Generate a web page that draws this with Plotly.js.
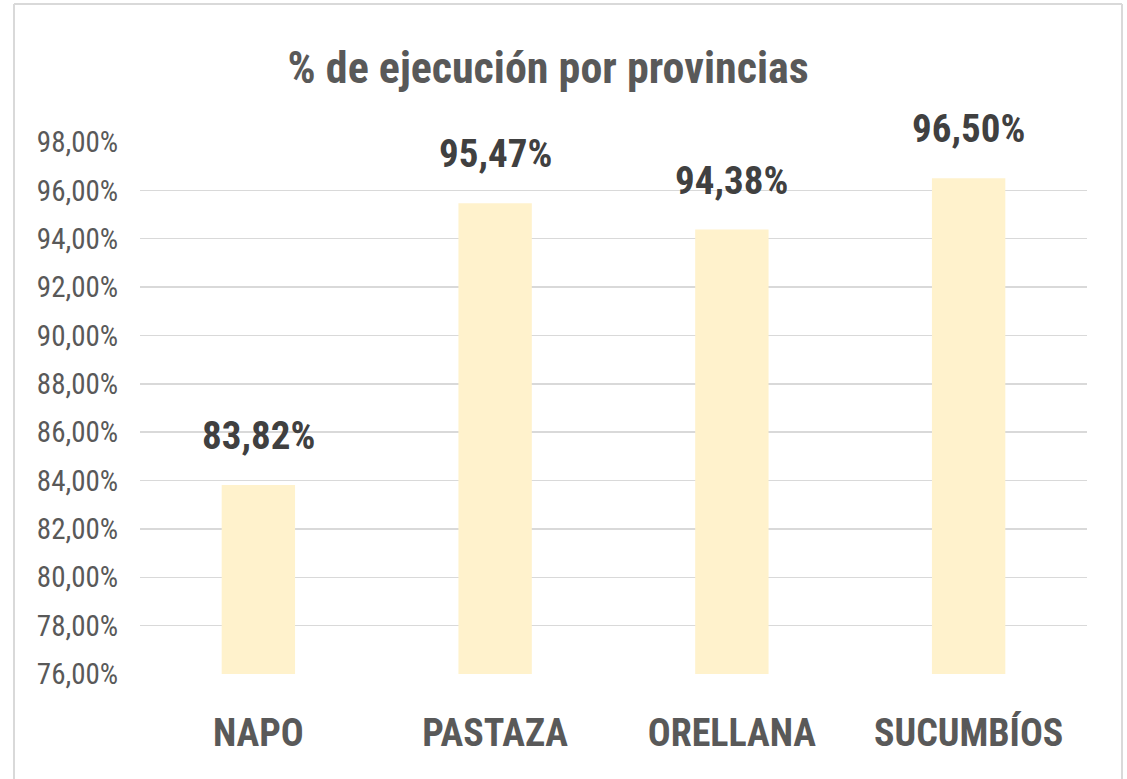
<!DOCTYPE html>
<html>
<head>
<meta charset="utf-8">
<script src="https://cdn.plot.ly/plotly-3.0.1.min.js"></script>
<style>html,body{margin:0;padding:0;background:#fff;}#chart{width:1127px;height:779px;}</style>
</head>
<body>
<div id="chart"></div>
<script>
const categories = ['NAPO', 'PASTAZA', 'ORELLANA', 'SUCUMBÍOS'];
const values = [0.8382, 0.9547, 0.9438, 0.9650];
const tickValues = [0.76, 0.78, 0.80, 0.82, 0.84, 0.86, 0.88, 0.90, 0.92, 0.94, 0.96, 0.98];

const FONT = '"Liberation Sans Narrow", "Roboto Condensed", Roboto, sans-serif';

const annotations = categories.map((c, i) => ({
  x: c, y: values[i], xref: 'x', yref: 'y',
  text: (values[i] * 100).toFixed(2).replace('.', ',') + '%',
  showarrow: false, yanchor: 'bottom', yshift: 24,
  font: {family: FONT, size: 39, color: '#404040', weight: 'bold'}
}));

const trace = {
  type: 'bar', x: categories, y: values,
  marker: {color: '#FFF2CC'},
  hoverinfo: 'skip'
};

const layout = {
  width: 1127, height: 779,
  paper_bgcolor: '#fff', plot_bgcolor: '#fff',
  separators: ',.',
  margin: {l: 140, r: 40, t: 142, b: 105},
  showlegend: false,
  bargap: 0.69,
  title: {
    text: '% de ejecución por provincias',
    font: {family: FONT, size: 44, color: '#595959', weight: 'bold'},
    xref: 'paper', x: 0.431, xanchor: 'center',
    yref: 'container', y: 0.913, yanchor: 'middle'
  },
  xaxis: {
    showgrid: false, zeroline: false, showline: false,
    ticks: 'outside', ticklen: 25, tickcolor: 'rgba(0,0,0,0)',
    tickfont: {family: FONT, size: 38, color: '#595959', weight: 'bold'}
  },
  yaxis: {
    range: [0.76, 0.98], tickvals: tickValues, tickformat: '.2%',
    showgrid: true, gridcolor: '#d9d9d9', gridwidth: 1.5,
    zeroline: false, showline: false,
    ticks: 'outside', ticklen: 15, tickcolor: 'rgba(0,0,0,0)',
    tickfont: {family: FONT, size: 29, color: '#595959'}
  },
  annotations: annotations,
  shapes: [
    {type: 'line', xref: 'paper', yref: 'paper', x0: -126/947, x1: -126/947, y0: -105/532, y1: 1 + 138/532, line: {color: '#d9d9d9', width: 2}},
    {type: 'line', xref: 'paper', yref: 'paper', x0: -126/947, x1: 1 + 35/947, y0: 1 + 138/532, y1: 1 + 138/532, line: {color: '#d9d9d9', width: 2}},
    {type: 'line', xref: 'paper', yref: 'paper', x0: 1 + 35/947, x1: 1 + 35/947, y0: -105/532, y1: 1 + 138/532, line: {color: '#d9d9d9', width: 2}}
  ]
};

Plotly.newPlot('chart', [trace], layout, {displayModeBar: false, staticPlot: true});
</script>
</body>
</html>
